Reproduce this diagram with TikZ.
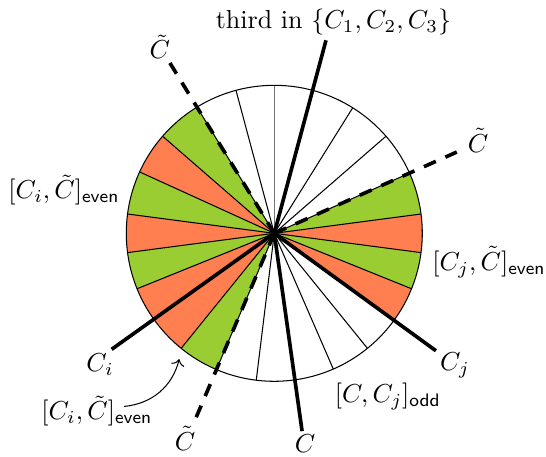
\documentclass[tikz,border=0pt]{standalone}
\usepackage{amsmath}
\usetikzlibrary{arrows.meta}
\definecolor{sgreen}{RGB}{154,205,50}
\definecolor{sorange}{RGB}{255,127,80}
\begin{document}
\begin{tikzpicture}[
  thinline/.style={line width=0.4pt},
  thickline/.style={line width=1.4pt},
  dashline/.style={line width=1.4pt, dash pattern=on 5pt off 4pt},
  lbl/.style={inner sep=1pt}
]
\useasboundingbox (-3.707,-3.023) rectangle (3.672,3.153);
\def\R{2}
\def\L{2.7}
\coordinate (O) at (0,0);
% sectors
\foreach \a/\b/\c in {7.5/24/sgreen, 121.5/139/sgreen, 139/155.5/sorange, 155.5/172.5/sgreen,
  172.5/187.5/sorange, 187.5/202/sgreen, 202/215.5/sorange, 215.5/231/sorange, 231/247/sgreen,
  324/338/sorange, 338/352.5/sgreen, 352.5/367.5/sorange}
  \fill[\c] (O) -- (\a:\R) arc[start angle=\a, end angle=\b, radius=\R] -- cycle;
% thin boundaries
\foreach \a in {7.5, 24, 41, 58, 75, 105, 121.5, 139, 155.5, 172.5, 187.5, 202, 215.5, 231, 247, 263, 278, 293.5, 309, 324, 338, 352.5}
  \draw[thinline] (O) -- (\a:\R);
\draw[thinline, black!55] (O) -- (90:\R);
\draw[thinline] (O) circle[radius=\R];
% thick lines
\coordinate (Pthird) at (75:\L);
\coordinate (Pci) at (215.5:\L);
\coordinate (Pc) at (278:\L);
\coordinate (Pcj) at (324:\L);
\coordinate (Pt1) at (121.5:\L);
\coordinate (Pt2) at (24:\L);
\coordinate (Pt3) at (247:\L);
\draw[thickline] (O) -- (Pthird);
\draw[thickline] (O) -- (Pci);
\draw[thickline] (O) -- (Pc);
\draw[thickline] (O) -- (Pcj);
\draw[dashline] (O) -- (Pt1);
\draw[dashline] (O) -- (Pt2);
\draw[dashline] (O) -- (Pt3);
% labels
\node[lbl] (lthird) at (0.80,2.86) {third in $\{C_1,C_2,C_3\}$};
\node[lbl] (lt1) at (-1.545,2.52) {$\tilde{C}$};
\node[lbl] (lt2) at (2.753,1.26) {$\tilde{C}$};
\node[lbl] (lt3) at (-1.207,-2.77) {$\tilde{C}$};
\node[lbl] (lci) at (-2.355,-1.78) {$C_i$};
\node[lbl] (lc) at (0.415,-2.84) {$C$};
\node[lbl] (lcj) at (2.442,-1.78) {$C_j$};
\node[lbl] (leftblk) at (-2.842,0.585) {$[C_i,\tilde{C}]_{\textsf{even}}$};
\node[lbl] (rightblk) at (2.902,-0.388) {$[C_j,\tilde{C}]_{\textsf{even}}$};
\node[lbl] (botblk) at (-2.397,-2.40) {$[C_i,\tilde{C}]_{\textsf{even}}$};
\node[lbl] (oddblk) at (1.536,-2.20) {$[C,C_j]_{\textsf{odd}}$};
\coordinate (astart) at (-2.03,-2.34);
\coordinate (atip) at (-1.284,-1.70);
\draw[thinline,->] (astart) to[bend right=35] (atip);
\end{tikzpicture}
\end{document}
